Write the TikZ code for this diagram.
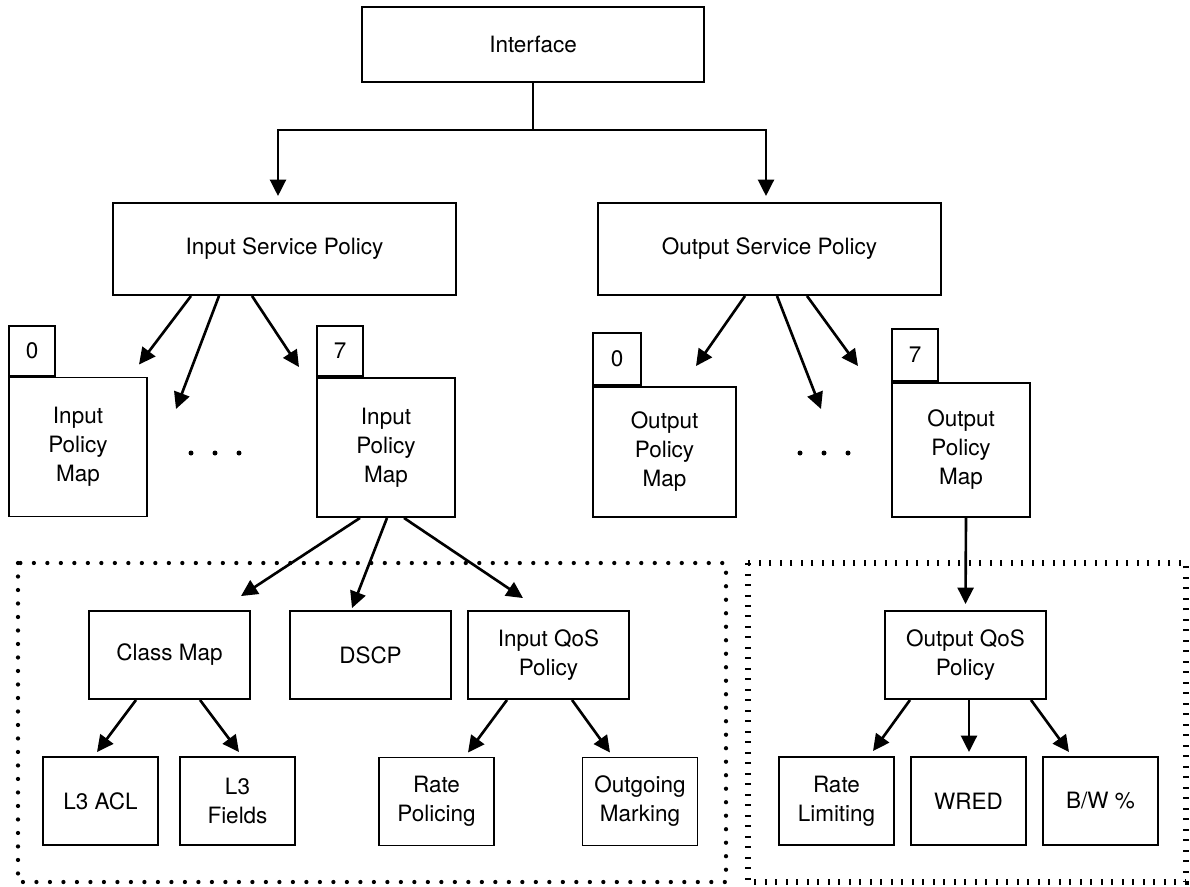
\documentclass[tikz,border=0pt]{standalone}
\usepackage{fontspec}
\setmainfont{TeX Gyre Heros}
\usetikzlibrary{arrows.meta,calc,positioning}

\tikzset{
  box/.style={draw, line width=1.1pt, align=center, inner sep=0pt, font=\fontsize{12.8}{16.5}\selectfont},
  widebox/.style={box, minimum width=6.86cm, minimum height=1.84cm},
  mapbox/.style={box, minimum width=2.76cm, minimum height=2.78cm},
  tabbox/.style={box, minimum width=0.92cm, minimum height=1cm, anchor=south west},
  midbox/.style={box, minimum width=3.22cm, minimum height=1.76cm},
  leafbox/.style={box, minimum width=2.3cm, minimum height=1.76cm},
  arr/.style={line width=1.5pt, -{Triangle[length=0.33cm,width=0.32cm]}},
  roundots/.style={line width=0.085cm, line cap=round, dash pattern=on 0pt off 0.27cm},
  ticks/.style={line width=0.11cm, dash pattern=on 0.04cm off 0.17cm},
}

\begin{document}
\begin{tikzpicture}[x=0.02cm, y=-0.02cm]
    \useasboundingbox (0,0) rectangle (1190,886);
    \draw[roundots] (18,563) rectangle (726,882);
    \draw[ticks] (748,563) rectangle (1186,882);

    \node[box, minimum width=6.84cm, minimum height=1.5cm] (iface) at (533,44.5) {Interface};
    \node[widebox] (insp) at (284.5,249) {Input Service Policy};
    \node[widebox] (outsp) at (769.5,249) {Output Service Policy};

    \node[mapbox] (inpm0) at (78,447) {Input\\Policy\\Map};
    \node[tabbox] (intab0) at (inpm0.north west) {0};
    \node[mapbox] (inpm7) at (386,447.5) {Input\\Policy\\Map};
    \node[tabbox] (intab7) at (inpm7.north west) {7};
    \node[mapbox, minimum width=2.86cm, minimum height=2.6cm] (outpm0) at (664.5,452) {Output\\Policy\\Map};
    \node[tabbox, minimum width=0.96cm, minimum height=1.04cm] (outtab0) at (outpm0.north west) {0};
    \node[mapbox, minimum height=2.68cm] (outpm7) at (961,450) {Output\\Policy\\Map};
    \node[tabbox, minimum height=1.04cm] (outtab7) at (outpm7.north west) {7};

    \coordinate (dotsin) at (215,453);
    \coordinate (dotsout) at (824,453);
    \foreach \dx in {-24,0,24} {
      \fill ($(dotsin)+(\dx,0)$) circle (0.05cm);
      \fill ($(dotsout)+(\dx,0)$) circle (0.05cm);
    }

    \node[midbox] (classmap) at (169.5,655) {Class Map};
    \node[midbox] (dscp) at (370.5,655) {DSCP};
    \node[midbox] (inqos) at (548.5,655) {Input QoS\\Policy};
    \node[midbox] (outqos) at (965.5,655) {Output QoS\\Policy};

    \node[leafbox] (l3acl) at (100.5,801) {L3 ACL};
    \node[leafbox] (l3fld) at (237.5,801) {L3\\Fields};
    \node[leafbox] (ratepol) at (436.5,801.5) {Rate\\Policing};
    \node[leafbox] (outmark) at (640,801.5) {Outgoing\\Marking};
    \node[leafbox] (ratelim) at (836.5,801) {Rate\\Limiting};
    \node[leafbox] (wred) at (968.5,801) {WRED};
    \node[leafbox] (bw) at (1100.5,801) {B/W \%};

    \coordinate (fork) at ($(iface.south)+(0,47)$);
    \draw[line width=1.1pt] (iface.south) -- (fork);
    \draw[arr] (fork) -| ($(insp.north)+(-6.5,-6)$);
    \draw[arr] (fork) -| ($(outsp.north)+(-3.5,-6)$);

    \draw[arr] ($(insp.south)+(-93.5,0)$) -- ($(inpm0.north)+(61,-12)$);
    \draw[arr] ($(insp.south)+(-65.5,0)$) -- ($(dotsin)+(-39,-44)$);
    \draw[arr] ($(insp.south)+(-32.5,0)$) -- ($(inpm7.north)+(-87,-10)$);
    \draw[arr] ($(outsp.south)+(-24.5,0)$) -- ($(outpm0.north)+(31.5,-20)$);
    \draw[arr] ($(outsp.south)+(7.5,0)$) -- ($(dotsout)+(-3,-44)$);
    \draw[arr] ($(outsp.south)+(37.5,0)$) -- ($(outpm7.north)+(-103,-16)$);

    \draw[arr] ($(inpm7.south)+(-26,0)$) -- ($(classmap.north)+(71.5,-14)$);
    \draw[arr] ($(inpm7.south)+(1,0)$) -- ($(dscp.north)+(-18.5,-2)$);
    \draw[arr] ($(inpm7.south)+(18,0)$) -- ($(inqos.north)+(-25.5,-12)$);
    \draw[arr] ($(outpm7.south)+(5,0)$) -- ($(outqos.north)+(0,-6)$);

    \draw[arr] ($(classmap.south)+(-33.5,0)$) -- ($(l3acl.north)+(-3.5,-4)$);
    \draw[arr] ($(classmap.south)+(30.5,0)$) -- ($(l3fld.north)+(1.5,-4)$);
    \draw[arr] ($(inqos.south)+(-41.5,0)$) -- ($(ratepol.north)+(31.5,-4)$);
    \draw[arr] ($(inqos.south)+(23.5,0)$) -- ($(outmark.north)+(-30,-4)$);
    \draw[arr] ($(outqos.south)+(-55.5,0)$) -- ($(ratelim.north)+(36.5,-5)$);
    \draw[arr] ($(outqos.south)+(3.5,0)$) -- ($(wred.north)+(0.5,-4)$);
    \draw[arr] ($(outqos.south)+(65.5,0)$) -- ($(bw.north)+(-31.5,-4)$);
\end{tikzpicture}
\end{document}
